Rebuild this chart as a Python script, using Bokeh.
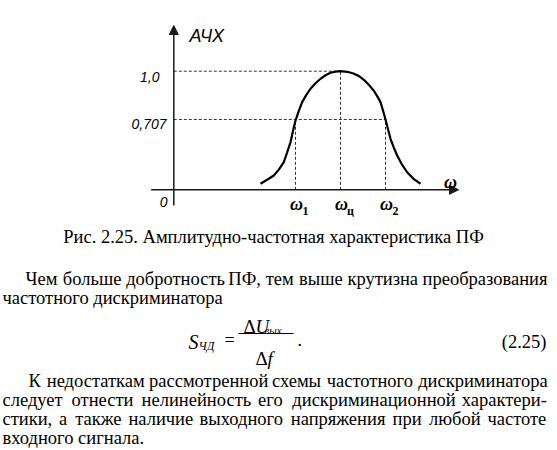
from bokeh.plotting import figure
from bokeh.models import Range1d, Label, Arrow, NormalHead
from bokeh.embed import file_html
from bokeh.resources import INLINE

W, H = 557, 450

# ---- chart data (ω normalised to centre frequency ωц, АЧХ normalised to its peak)
omega = [0.520, 0.560, 0.600, 0.630, 0.660, 0.680, 0.700, 0.715, 0.730, 0.750, 0.770, 0.795, 0.820,
         0.850, 0.880, 0.910, 0.940, 0.970, 1.000, 1.040, 1.078, 1.110, 1.138, 1.170, 1.200, 1.220,
         1.240, 1.255, 1.270, 1.285, 1.300, 1.320, 1.340, 1.370, 1.400, 1.440, 1.480]
afc = [0.051, 0.085, 0.121, 0.170, 0.233, 0.315, 0.401, 0.495, 0.584, 0.665, 0.739, 0.800, 0.852,
       0.898, 0.936, 0.966, 0.987, 0.997, 1.000, 0.995, 0.981, 0.960, 0.930, 0.885, 0.835, 0.790,
       0.739, 0.668, 0.593, 0.510, 0.430, 0.355, 0.289, 0.210, 0.148, 0.090, 0.051]
w1, wc, w2 = 0.730, 1.000, 1.270
level_peak, level_half = 1.0, 0.593
y_tick_labels = ["1,0", "0,707"]
x_tick_names = ["1", "ц", "2"]

# ---- page texts
caption = "Рис. 2.25. Амплитудно-частотная характеристика ПФ"
para1 = ["Чем больше добротность ПФ, тем выше крутизна преобразования",
         "частотного дискриминатора"]
para2 = ["К недостаткам рассмотренной схемы частотного дискриминатора",
         "следует отнести нелинейность его дискриминационной характери-",
         "стики, а также наличие выходного напряжения при любой частоте",
         "входного сигнала."]

# ---- page layout helpers (pixel -> data)
OX, OY = 173.3, 189.3
SX, SY = 166.7, 118.6
def X(px): return (px - OX) / SX
def Y(py): return (OY - py) / SY

# approximate Times-metric advance widths (1/1000 em) used to justify lines
ADV = {'а': 444, 'б': 509, 'в': 472, 'г': 410, 'д': 509, 'е': 444, 'ж': 691, 'з': 395, 'и': 535,
       'й': 535, 'к': 486, 'л': 499, 'м': 633, 'н': 535, 'о': 500, 'п': 535, 'р': 500, 'с': 444,
       'т': 437, 'у': 500, 'ф': 648, 'х': 500, 'ц': 535, 'ч': 503, 'ш': 770, 'щ': 770, 'ъ': 517,
       'ы': 672, 'ь': 456, 'э': 429, 'ю': 747, 'я': 482, 'К': 667, 'П': 722, 'Ф': 778, 'Ч': 667,
       ',': 250, '-': 333, '.': 250, ' ': 250}
BODY = 18.5
CAL = 0.978

def word_w(w, size=BODY):
    return sum(ADV.get(c, 500) for c in w) * size * CAL / 1000.0

p = figure(width=W, height=H, x_range=Range1d(X(0), X(W)), y_range=Range1d(Y(H), Y(0)),
           output_backend="svg", toolbar_location=None, min_border=0,
           x_axis_location=None, y_axis_location=None, outline_line_color=None,
           background_fill_color="white", border_fill_color="white")
p.grid.visible = False

AX = "#1a1a1a"
p.add_layout(Arrow(end=NormalHead(size=9, fill_color=AX, line_color=AX, line_width=1),
                   x_start=X(150.7), y_start=0, x_end=X(458), y_end=0,
                   line_color=AX, line_width=1.5))
p.add_layout(Arrow(end=NormalHead(size=9, fill_color=AX, line_color=AX, line_width=1),
                   x_start=0, y_start=Y(205), x_end=0, y_end=Y(25),
                   line_color=AX, line_width=1.5))

p.segment(x0=[0, 0, w1, wc, w2], y0=[level_peak, level_half, 0, 0, 0],
          x1=[wc, w2, w1, wc, w2], y1=[level_peak, level_half, level_half, level_peak, level_half],
          line_dash="3 2", line_width=1, line_color="#333333")

p.line(omega, afc, line_width=2.2, line_color="black")

def lab(text, px, py, font="Liberation Serif", size=BODY, style="normal", align="left", color="black"):
    p.add_layout(Label(x=X(px), y=Y(py), text=text, text_font=font, text_font_size=f"{size}px",
                       text_font_style=style, text_align=align, text_baseline="alphabetic",
                       text_color=color))

def justified(line, x_start, x_end, py):
    words = line.split(" ")
    widths = [word_w(w) for w in words]
    gap = (x_end - x_start - sum(widths)) / (len(words) - 1)
    x = x_start
    for w, ww in zip(words, widths):
        lab(w, x, py)
        x += ww + gap

# chart labels
lab("АЧХ", 189, 35, font="Liberation Sans", size=18, style="italic")
lab(y_tick_labels[0], 159, 76, font="Liberation Sans", size=14, style="italic", align="right")
lab(y_tick_labels[1], 166, 123.5, font="Liberation Sans", size=14, style="italic", align="right")
lab("0", 167, 201.5, font="Liberation Sans", size=14, style="italic", align="right")
lab("ω", 450, 181, size=18, style="bold italic", align="center")
for xv, name in zip([w1, wc, w2], x_tick_names):
    px = OX + xv * SX
    lab("ω", px + 1, 203, size=18, style="bold italic", align="center")
    lab(name, px + 10, 210, size=12, style="bold", align="center")

# caption
lab(caption, 273, 236, align="center")

# paragraph 1
justified(para1[0], 25, 545, 278)
lab(para1[1], 2, 297)

# formula
lab("S", 188, 341, size=20, style="italic")
lab("ЧД", 198, 345, size=12, style="italic")
lab("=", 229, 339, size=18, align="center")
lab("Δ", 243, 326, size=19)
lab("U", 255, 326, size=19, style="italic")
lab("вых", 264, 329, size=11, style="italic")
p.segment(x0=[X(238)], y0=[Y(333)], x1=[X(293)], y1=[Y(333)], line_color="black", line_width=1)
lab("Δ", 255, 358, size=19)
lab("f", 267, 358, size=19, style="italic")
lab(".", 297, 339, size=18)
lab("(2.25)", 546, 341, align="right")

# paragraph 2
justified(para2[0], 28, 545, 380)
justified(para2[1], 2, 545, 399)
justified(para2[2], 2, 545, 418.5)
lab(para2[3], 2, 437.5)

open("out.html", "w").write(file_html(p, INLINE))
